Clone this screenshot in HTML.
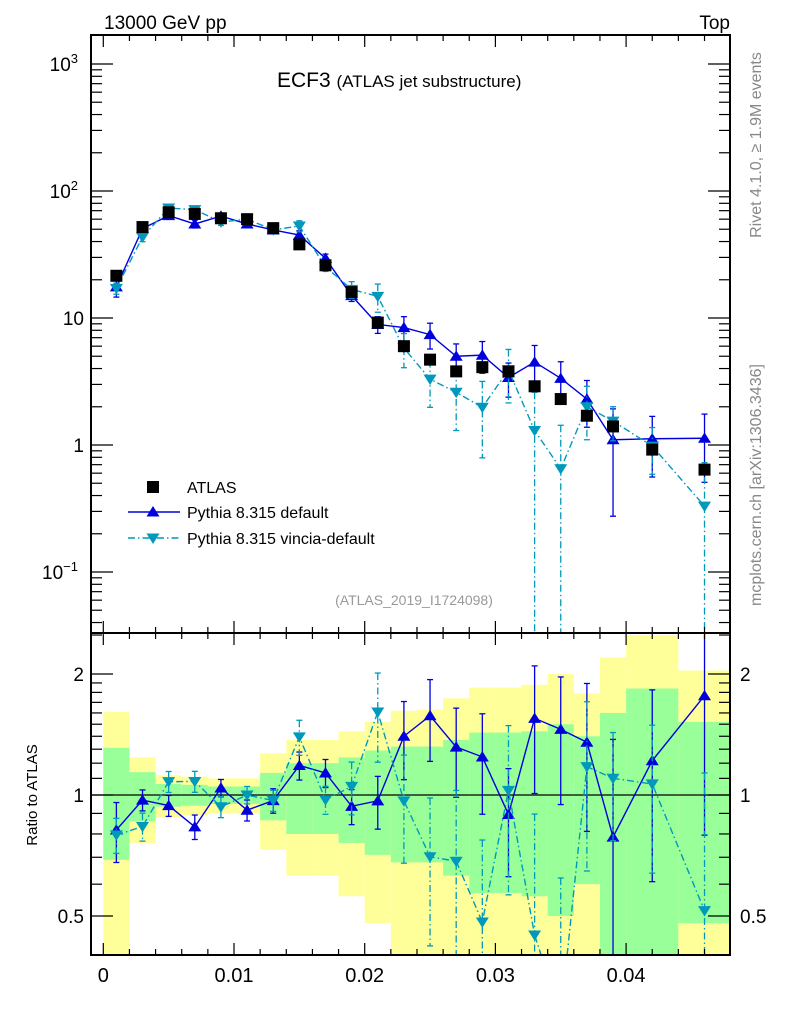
<!DOCTYPE html>
<html><head><meta charset="utf-8"><style>
html,body{margin:0;padding:0;background:#fff;width:786px;height:1024px;overflow:hidden;}
svg{display:block;font-family:"Liberation Sans",sans-serif;}
</style></head><body>
<div style="position:relative;width:786px;height:1024px;overflow:hidden">
<svg id="c" width="786" height="1024" viewBox="0 0 786 1024"></svg>
<svg width="786" height="1024" style="position:absolute;left:0;top:0;font-family:'Liberation Sans',sans-serif">
<text x="104" y="29" font-size="19">13000 GeV pp</text>
<text x="730" y="29" font-size="19" text-anchor="end">Top</text>
<text x="277" y="87" font-size="21">ECF3 <tspan font-size="17">(ATLAS jet substructure)</tspan></text>
<text x="414" y="605" font-size="14" fill="#999" text-anchor="middle">(ATLAS_2019_I1724098)</text>
<text transform="translate(761,145) rotate(-90)" font-size="16" fill="#888" text-anchor="middle">Rivet 4.1.0, ≥ 1.9M events</text>
<text transform="translate(761,485) rotate(-90)" font-size="16" fill="#888" text-anchor="middle">mcplots.cern.ch [arXiv:1306.3436]</text>
<text transform="translate(37,795) rotate(-90)" font-size="15" text-anchor="middle">Ratio to ATLAS</text>
<g>
<rect x="147" y="481" width="12" height="12" fill="#000"/>
<text x="187" y="493" font-size="16">ATLAS</text>
<line x1="128" x2="180" y1="512" y2="512" stroke="#0000dd" stroke-width="1.4"/>
<polygon points="146.5,516.5 159.5,516.5 153,506" fill="#0000dd"/>
<text x="187" y="518" font-size="16">Pythia 8.315 default</text>
<line x1="128" x2="180" y1="538" y2="538" stroke="#0099bb" stroke-width="1.4" stroke-dasharray="7,3,1.5,3"/>
<polygon points="146.5,533.5 159.5,533.5 153,544" fill="#0099bb"/>
<text x="187" y="544" font-size="16">Pythia 8.315 vincia-default</text>
</g>
</svg>
</div>
<script>
const xCenters=[0.001,0.003,0.005,0.007,0.009,0.011,0.013,0.015,0.017,0.019,0.021,0.023,0.025,0.027,0.029,0.031,0.033,0.035,0.037,0.039,0.042,0.046];
const binEdges=[0,0.002,0.004,0.006,0.008,0.010,0.012,0.014,0.016,0.018,0.020,0.022,0.024,0.026,0.028,0.030,0.032,0.034,0.036,0.038,0.040,0.044,0.048];
const atlasVals=[21.5,52,68,66,61,60,51,38,26,16,9.2,6.0,4.7,3.8,4.1,3.8,2.9,2.3,1.7,1.4,0.92,0.64];
const defVals=[17.6,50.5,64,55,63.5,55,49.4,45,29.5,15,8.9,8.4,7.4,5.0,5.1,3.4,4.5,3.35,2.3,1.1,1.12,1.13];
const vinVals=[17.1,43.4,73.4,71.3,57,60,49.4,53,25.3,16.8,14.8,5.8,3.3,2.6,1.98,3.9,1.3,0.65,2.0,1.54,0.98,0.33];
const defErr=[0.17,0.06,0.06,0.07,0.05,0.06,0.07,0.08,0.08,0.1,0.15,0.22,0.23,0.25,0.28,0.3,0.35,0.35,0.4,0.75,0.5,0.55];
const vinErr=[0.1,0.08,0.06,0.06,0.06,0.05,0.06,0.1,0.08,0.15,0.25,0.3,0.4,0.5,0.6,0.45,1.0,1.2,0.45,0.3,0.4,1.2];
const greenErr=[0.31,0.14,0.065,0.06,0.05,0.05,0.135,0.2,0.2,0.24,0.29,0.32,0.32,0.37,0.43,0.43,0.44,0.5,0.4,0.6,0.84,0.52];
const yellowErr=[0.61,0.24,0.12,0.11,0.1,0.1,0.27,0.37,0.37,0.44,0.52,0.62,0.63,0.74,0.85,0.85,0.88,1.0,0.79,1.2,1.5,1.04];
const mainTicks=[[3,"10","3"],[2,"10","2"],[1,"10",""],[0,"1",""],[-1,"10","−1"]];
const ratioTicks=[[2,"2"],[1,"1"],[0.5,"0.5"]];
const xTicks=[0,0.01,0.02,0.03,0.04];
const xLabels=["0","0.01","0.02","0.03","0.04"];

const NS="http://www.w3.org/2000/svg";
const svg=document.getElementById('c');
const L=91,R=730,T1=35,B1=633,B2=955;
const X=v=>103.3+v*13070;
const YM=v=>445-127*Math.log10(v);
const YR=r=>795-402*Math.log10(r);
function el(tag,attrs,parent){const e=document.createElementNS(NS,tag);for(const k in attrs)e.setAttribute(k,attrs[k]);(parent||svg).appendChild(e);return e;}
const clipM=el('clipPath',{id:'cm'});el('rect',{x:L,y:T1,width:R-L,height:B1-T1},clipM);
const clipR=el('clipPath',{id:'cr'});el('rect',{x:L,y:B1,width:R-L,height:B2-B1},clipR);
const gM=el('g',{'clip-path':'url(#cm)'});


const gR=el('g',{'clip-path':'url(#cr)'});



for(let i=0;i<xCenters.length;i++){
  const x0=X(binEdges[i]),x1=X(binEdges[i+1]);
  const yt=Math.max(YR(1+yellowErr[i]),B1-2),yb=(1-yellowErr[i]>0.4)?YR(1-yellowErr[i]):B2+2;
  const r1=el('rect',{x:x0,y:yt,width:x1-x0,height:yb-yt,fill:'#ffff99'},gR);
  
  
  const gt=Math.max(YR(1+greenErr[i]),B1-2),gb=(1-greenErr[i]>0.4)?YR(1-greenErr[i]):B2+2;
  const r2=el('rect',{x:x0,y:gt,width:x1-x0,height:gb-gt,fill:'#99ff99'},gR);
  
  
}
el('line',{x1:L,x2:R,y1:YR(1),y2:YR(1),stroke:'#000','stroke-width':1.2},gR);

function tri(g,x,y,down,color){
  const s=6.5;const pts=down?`${x-s},${y-s*0.7} ${x+s},${y-s*0.7} ${x},${y+s*0.9}`:`${x-s},${y+s*0.7} ${x+s},${y+s*0.7} ${x},${y-s*0.9}`;
  return el('polygon',{points:pts,fill:color},g);
}
function series(g,Y,vals,errs,color,dash,down,name,top,bot){
  const pts=[];
  for(let i=0;i<vals.length;i++){
    const x=X(xCenters[i]),v=vals[i],e=errs[i]*v;
    let yt=Y(v+e),yb=(v-e>0)?Y(v-e):bot+5;
    const capT=yt>=top,capB=yb<=bot;
    yt=Math.max(yt,top-5);yb=Math.min(yb,bot+5);
    el('line',{x1:x,x2:x,y1:yt,y2:yb,stroke:color,'stroke-width':1.3,'stroke-dasharray':dash||'none'},g);
    if(capT)el('line',{x1:x-3,x2:x+3,y1:yt,y2:yt,stroke:color,'stroke-width':1.3},g);
    if(capB)el('line',{x1:x-3,x2:x+3,y1:yb,y2:yb,stroke:color,'stroke-width':1.3},g);
    pts.push(x+','+Math.min(Math.max(Y(v),top-200),bot+200));
  }
  const pl=el('polyline',{points:pts.join(' '),fill:'none',stroke:color,'stroke-width':1.4,'stroke-dasharray':dash||'none'},g);
  
  
  for(let i=0;i<vals.length;i++){const yy=Y(vals[i]);if(yy>bot+10||yy<top-10)continue;
    const m=tri(g,X(xCenters[i]),yy,down,color);
    
    }
}
const DEF='#0000dd',VIN='#0099bb',DD='7,3,1.5,3';
series(gM,YM,defVals,defErr,DEF,null,false,'pythia-default',T1,B1);
series(gM,YM,vinVals,vinErr,VIN,DD,true,'pythia-vincia',T1,B1);
for(let i=0;i<atlasVals.length;i++){const r=el('rect',{x:X(xCenters[i])-6,y:YM(atlasVals[i])-6,width:12,height:12,fill:'#000'},gM);
  
  }
series(gR,YR,defVals.map((v,i)=>v/atlasVals[i]),defErr,DEF,null,false,'ratio-default',B1,B2);
series(gR,YR,vinVals.map((v,i)=>v/atlasVals[i]),vinErr,VIN,DD,true,'ratio-vincia',B1,B2);

const f1=el('rect',{x:L,y:T1,width:R-L,height:B1-T1,fill:'none',stroke:'#000','stroke-width':2});


const f2=el('rect',{x:L,y:B1,width:R-L,height:B2-B1,fill:'none',stroke:'#000','stroke-width':2});



for(let k=0;k<=24;k++){const v=k*0.002,x=X(v);if(x>R)break;const major=(k%5===0);const len=major?12:6;
  el('line',{x1:x,x2:x,y1:B2,y2:B2-len,stroke:'#000','stroke-width':1.2});
  el('line',{x1:x,x2:x,y1:B1,y2:B1-len,stroke:'#000','stroke-width':1.2});
  el('line',{x1:x,x2:x,y1:B1,y2:B1+len,stroke:'#000','stroke-width':1.2});
  el('line',{x1:x,x2:x,y1:T1,y2:T1+len,stroke:'#000','stroke-width':1.2});
}
xTicks.forEach((v,i)=>{const t=el('text',{x:X(v),y:982,'font-size':20,'text-anchor':'middle'});t.textContent=xLabels[i];
  
  });
for(let d=-2;d<=3;d++){for(let m=1;m<=9;m++){const v=m*Math.pow(10,d),y=YM(v);if(y<T1||y>B1)continue;const len=m===1?22:11;
  el('line',{x1:L,x2:L+len,y1:y,y2:y,stroke:'#000','stroke-width':1.2});el('line',{x1:R,x2:R-len,y1:y,y2:y,stroke:'#000','stroke-width':1.2});}}
mainTicks.forEach(([d,b,s])=>{const t=el('text',{x:s?78:84,y:YM(Math.pow(10,d))+7,'font-size':19,'text-anchor':'end'});
  
  
  t.textContent=b;if(s){const ts=el('tspan',{dy:-8,'font-size':13},t);ts.textContent=s;}});
const rt=[0.4,0.5,0.6,0.7,0.8,0.9,1,1.1,1.2,1.3,1.4,1.5,1.6,1.7,1.8,1.9,2,2.5];
rt.forEach(r=>{const y=YR(r);if(y<B1||y>B2)return;const major=(r===0.5||r===1||r===2);const len=major?22:11;
  el('line',{x1:L,x2:L+len,y1:y,y2:y,stroke:'#000','stroke-width':1.2});el('line',{x1:R,x2:R-len,y1:y,y2:y,stroke:'#000','stroke-width':1.2});});
ratioTicks.forEach(([r,s])=>{const a=el('text',{x:84,y:YR(r)+7,'font-size':19,'text-anchor':'end'});a.textContent=s;
  
  
  const b=el('text',{x:740,y:YR(r)+7,'font-size':19});b.textContent=s;
  
  });
</script>
</body></html>
